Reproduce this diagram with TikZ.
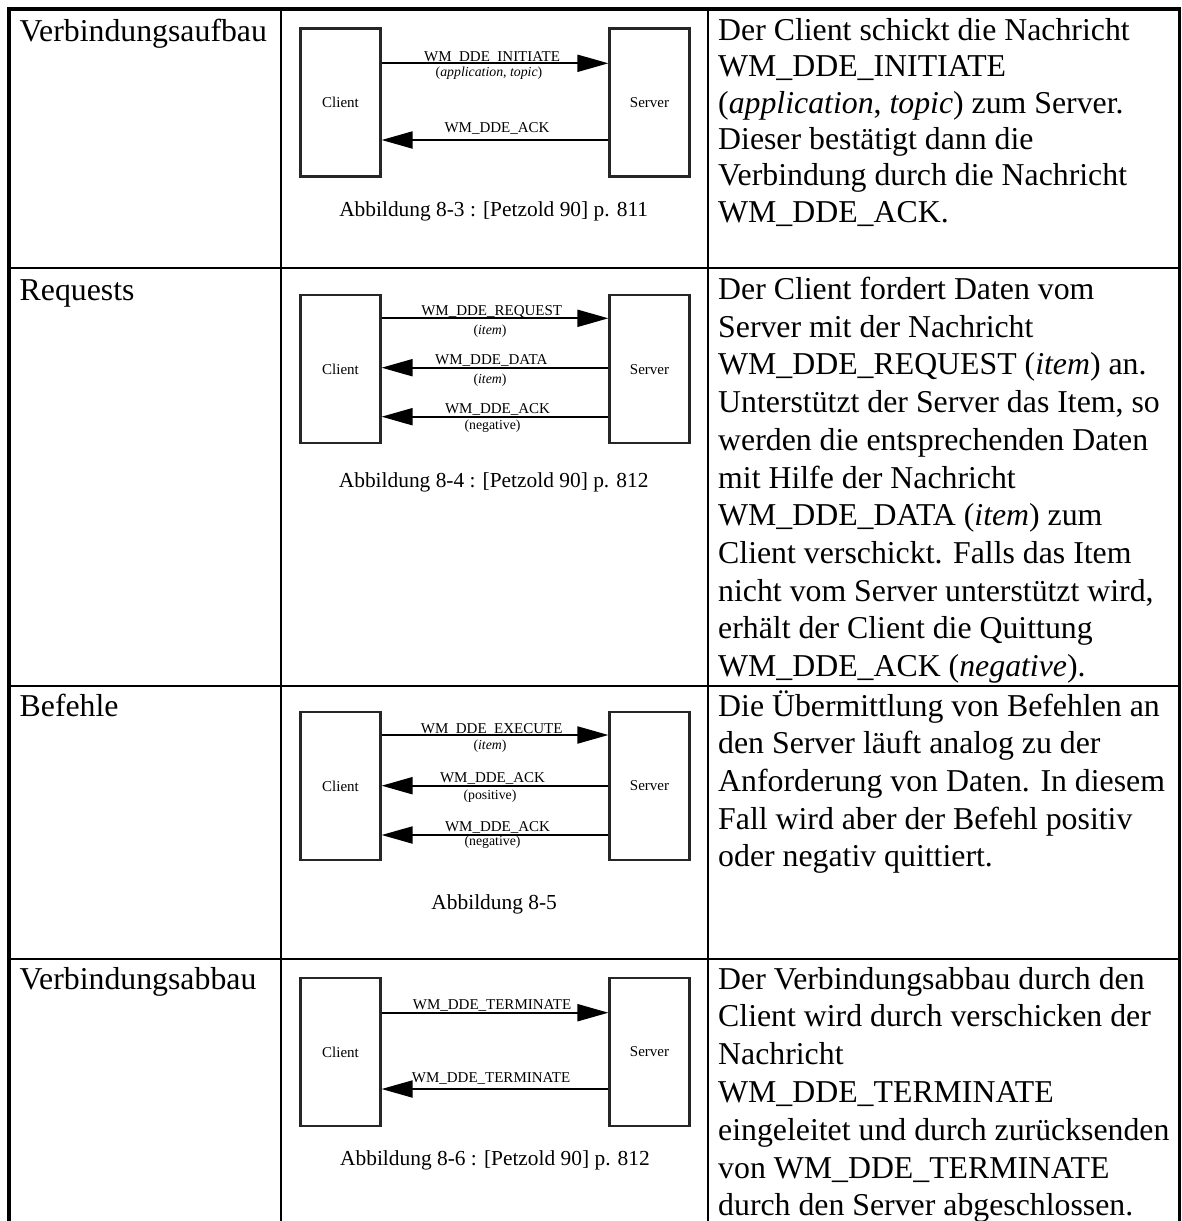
\documentclass[tikz,border=0pt]{standalone}
\usepackage{fontspec}
\setmainfont{Liberation Serif}
\usetikzlibrary{arrows.meta}

\begin{document}
\begin{tikzpicture}[x=1pt,y=-1pt,
  frame/.style={line width=3.3pt},
  rule/.style={line width=2.5pt},
  body/.style={anchor=base west,inner sep=0pt,font=\fontsize{31.8}{38}\selectfont},
  party/.style={draw=black!85,line width=2.2pt,minimum width=80pt,minimum height=148pt,
    inner sep=0pt,font=\fontsize{15}{18}\selectfont},
  msg/.style={line width=2pt,-{Triangle[length=31pt,width=17pt]}},
  lab/.style={anchor=base,inner sep=0pt,font=\fontsize{15}{18}\selectfont},
  sublab/.style={anchor=base,inner sep=0pt,font=\fontsize{13.8}{16}\selectfont},
  caption/.style={anchor=base,inner sep=0pt,font=\fontsize{21.4}{25}\selectfont}]

\useasboundingbox (0,0) rectangle (1181,1221);
\fill[white] (0,0) rectangle (1181,1221);

% table rules
\draw[frame] (9,1225) -- (9,9) -- (1179.5,9) -- (1179.5,1225);
\draw[rule] (281,9) -- (281,1225);
\draw[rule] (708,9) -- (708,1225);
\foreach \yy in {268,686,959} \draw[rule] (9,\yy) -- (1179.5,\yy);

% first column
\node[body] (h1) at (19.5,41) {Verbindungsaufbau};
\node[body] (h2) at (19.5,300) {Requests};
\node[body] (h3) at (19.5,716) {Befehle};
\node[body] (h4) at (19.5,989) {Verbindungsabbau};

% description column, one node per line
\newcommand\celllines[4]{%
  \foreach \t [count=\i from 0] in {#4} {
    \node[body] (#1-\i) at (718,{#2+\i*#3}) {\t};
  }}
\celllines{d1}{40.5}{36.3}{{Der Client schickt die Nachricht},{WM\_DDE\_INITIATE},
  {(\textit{application}, \textit{topic}) zum Server.},{Dieser bestätigt dann die},
  {Verbindung durch die Nachricht},{WM\_DDE\_ACK.}}
\celllines{d2}{299.5}{37.7}{{Der Client fordert Daten vom},{Server mit der Nachricht},
  {WM\_DDE\_REQUEST (\textit{item}) an.},{Unterstützt der Server das Item, so},
  {werden die entsprechenden Daten},{mit Hilfe der Nachricht},
  {WM\_DDE\_DATA (\textit{item}) zum},{Client verschickt. Falls das Item},
  {nicht vom Server unterstützt wird,},{erhält der Client die Quittung},
  {WM\_DDE\_ACK (\textit{negative}).}}
\celllines{d3}{716}{37.7}{{Die Übermittlung von Befehlen an},{den Server läuft analog zu der},
  {Anforderung von Daten. In diesem},{Fall wird aber der Befehl positiv},
  {oder negativ quittiert.}}
\celllines{d4}{989}{37.8}{{Der Verbindungsabbau durch den},{Client wird durch verschicken der},
  {Nachricht},{WM\_DDE\_TERMINATE},{eingeleitet und durch zurücksenden},
  {von WM\_DDE\_TERMINATE},{durch den Server abgeschlossen.}}

% diagram 8-3: connection set-up
\node[party] (c1) at (340.5,102.5) {Client};
\node[party] (s1) at (649.5,102.5) {Server};
\draw[msg] (c1.east |- 0,63.3) -- (s1.west |- 0,63.3);
\draw[msg] (s1.west |- 0,140) -- (c1.east |- 0,140);
\node[lab] (m1a) at (492,61) {WM\_DDE\_INITIATE};
\node[sublab] (p1a) at (489,76) {(\textit{application}, \textit{topic})};
\node[lab] (m1b) at (497,132.5) {WM\_DDE\_ACK};
\node[caption] (f1) at (493.7,216.7) {Abbildung 8-3 : [Petzold 90] p. 811};

% diagram 8-4: requests
\node[party] (c2) at (340.5,369.2) {Client};
\node[party] (s2) at (649.5,369.2) {Server};
\draw[msg] (c2.east |- 0,318.3) -- (s2.west |- 0,318.3);
\draw[msg] (s2.west |- 0,367.7) -- (c2.east |- 0,367.7);
\draw[msg] (s2.west |- 0,416.7) -- (c2.east |- 0,416.7);
\node[lab] (m2a) at (491.7,315) {WM\_DDE\_REQUEST};
\node[sublab] (p2a) at (490,334) {(\textit{item})};
\node[lab] (m2b) at (491.3,364.5) {WM\_DDE\_DATA};
\node[sublab] (p2b) at (490,383) {(\textit{item})};
\node[lab] (m2c) at (497.5,413.5) {WM\_DDE\_ACK};
\node[sublab] (p2c) at (492.5,429) {(negative)};
\node[caption] (f2) at (493.7,487) {Abbildung 8-4 : [Petzold 90] p. 812};

% diagram 8-5: commands
\node[party] (c3) at (340.5,786) {Client};
\node[party] (s3) at (649.5,786) {Server};
\draw[msg] (c3.east |- 0,735) -- (s3.west |- 0,735);
\draw[msg] (s3.west |- 0,785.7) -- (c3.east |- 0,785.7);
\draw[msg] (s3.west |- 0,835) -- (c3.east |- 0,835);
\node[lab] (m3a) at (491.7,733) {WM\_DDE\_EXECUTE};
\node[sublab] (p3a) at (490,749.5) {(\textit{item})};
\node[lab] (m3b) at (492.5,782.5) {WM\_DDE\_ACK};
\node[sublab] (p3b) at (490,799.5) {(positive)};
\node[lab] (m3c) at (497.5,831.5) {WM\_DDE\_ACK};
\node[sublab] (p3c) at (492.5,845) {(negative)};
\node[caption] (f3) at (494.2,909.3) {Abbildung 8-5};

% diagram 8-6: termination
\node[party] (c4) at (340.5,1052) {Client};
\node[party] (s4) at (649.5,1052) {Server};
\draw[msg] (c4.east |- 0,1012.7) -- (s4.west |- 0,1012.7);
\draw[msg] (s4.west |- 0,1089) -- (c4.east |- 0,1089);
\node[lab] (m4a) at (492,1009.3) {WM\_DDE\_TERMINATE};
\node[lab] (m4b) at (491,1082.3) {WM\_DDE\_TERMINATE};
\node[caption] (f4) at (495,1165) {Abbildung 8-6 : [Petzold 90] p. 812};
\end{tikzpicture}
\end{document}
